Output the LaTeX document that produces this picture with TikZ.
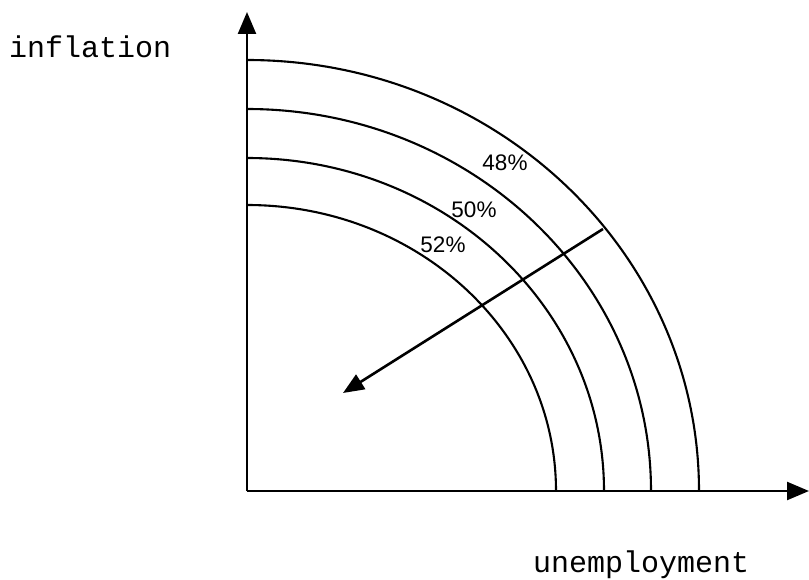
\documentclass[tikz,border=0pt]{standalone}
\usepackage{fontspec}
\setmainfont{Liberation Sans}
\newfontfamily\axisfont{Liberation Mono}
\usetikzlibrary{arrows.meta}
\begin{document}
\begin{tikzpicture}[x=1pt,y=1pt,
  axisline/.style={line width=2.4pt,-{Triangle[length=22pt,width=18pt]}},
  curve/.style={line width=2.1pt},
  shiftarrow/.style={line width=2.6pt,-{Triangle[length=21pt,width=17pt]}},
  pct/.style={inner sep=0pt,font=\fontsize{22.5}{22.5}\selectfont},
  axlabel/.style={inner sep=0pt,anchor=base west,font=\axisfont\fontsize{30}{30}\selectfont}]
\useasboundingbox (0,0) rectangle (809,579);
\coordinate (O) at (247,88);
\coordinate (ytip) at (247,567);
\coordinate (xtip) at (809,88);
\coordinate (astart) at (603,350);
\coordinate (aend) at (343,186);
% arcs
\draw[curve] (247,519) arc[start angle=90,end angle=0,x radius=452,y radius=431];
\draw[curve] (247,470) arc[start angle=90,end angle=0,x radius=404,y radius=382];
\draw[curve] (247,421) arc[start angle=90,end angle=0,x radius=357,y radius=333];
\draw[curve] (247,374) arc[start angle=90,end angle=0,x radius=309,y radius=286];
% axes
\draw[axisline] (O) -- (ytip);
\draw[axisline] (O) -- (xtip);
% shift arrow
\draw[shiftarrow] (astart) -- (aend);
% labels
\node[pct] (p48) at (505,416) {48\%};
\node[pct] (p50) at (474,369) {50\%};
\node[pct] (p52) at (443,334) {52\%};
\node[axlabel] (infl) at (9,521) {inflation};
\node[axlabel] (unemp) at (533,7) {unemployment};
\end{tikzpicture}
\end{document}
